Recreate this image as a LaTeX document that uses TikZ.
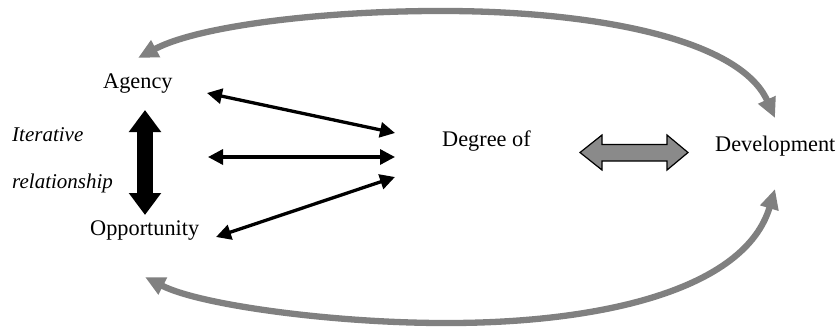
\documentclass[tikz,border=0pt]{standalone}
\usepackage{fontspec}
\setmainfont{Liberation Serif}
\usetikzlibrary{arrows.meta}

\definecolor{loopgray}{HTML}{808080}
\definecolor{blockgray}{HTML}{8A8A8A}

\tikzset{
  label/.style={inner sep=0pt, anchor=base west, font=\fontsize{22.3}{26}\selectfont},
  note/.style={inner sep=0pt, anchor=base west, font=\fontsize{21}{25}\selectfont\itshape},
  link/.style={line width=3.3pt, {Triangle[length=15pt,width=15pt]}-{Triangle[length=15pt,width=15pt]}},
  iterlink/.style={line width=16pt, {Triangle[length=22pt,width=31pt]}-{Triangle[length=22pt,width=31pt]}},
  loop/.style={draw=loopgray, line width=6.3pt, {Triangle[length=20pt,width=18pt]}-{Triangle[length=20pt,width=18pt]}},
  block/.style={draw=black, line width=1.2pt, fill=blockgray, line join=miter}
}

\begin{document}
\begin{tikzpicture}[x=1pt, y=-1pt]
  \useasboundingbox (0,0) rectangle (837,327);
  \fill[white] (0,0) rectangle (837,327);

  % text nodes
  \node[label] (agency) at (103,88) {Agency};
  \node[label] (opportunity) at (90,235) {Opportunity};
  \node[label] (degree) at (442,146) {Degree of};
  \node[label] (development) at (715,151) {Development};
  \node[note] (iter) at (12,141) {Iterative};
  \node[note] (rel) at (12,188) {relationship};

  % arrow end points next to the nodes
  \coordinate (agR) at (207,93);
  \coordinate (midL) at (208,157);
  \coordinate (opR) at (216,237);
  \coordinate (degA) at (395,133);
  \coordinate (degM) at (395,157);
  \coordinate (degO) at (395,177);
  \coordinate (agB) at (145,110);
  \coordinate (opT) at (145,215);
  \coordinate (agTop) at (138,58);
  \coordinate (opBot) at (145,277);
  \coordinate (devTop) at (775,118);
  \coordinate (devBot) at (775,189);

  % links into the degree node
  \draw[link] (agR) -- (degA);
  \draw[link] (midL) -- (degM);
  \draw[link] (opR) -- (degO);

  % iterative relationship between agency and opportunity
  \draw[iterlink] (agB) -- (opT);

  % block double arrow between degree and development
  \draw[block] (580,152.5) -- (602,135) -- (602,144.5) -- (667,144.5) -- (667,135)
    -- (688,152.5) -- (667,170) -- (667,161) -- (602,161) -- (602,170) -- cycle;

  % feedback loops
  \draw[loop] (agTop) .. controls (200,25) and (330,10.2) .. (450,11)
    .. controls (600,12) and (740,40) .. (devTop);
  \draw[loop] (opBot) .. controls (200,305) and (330,322.5) .. (440,323)
    .. controls (600,324) and (745,290) .. (devBot);
\end{tikzpicture}
\end{document}
